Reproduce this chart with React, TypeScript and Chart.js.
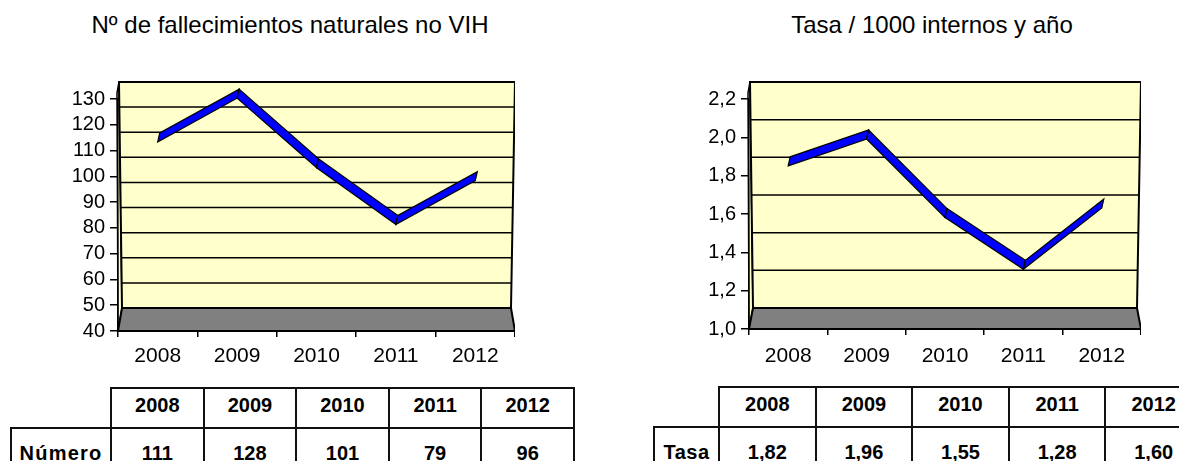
import React, { useEffect, useRef } from 'react';
import { Chart, registerables } from 'chart.js';

Chart.register(...registerables);

// ---------- data ----------
const years = ['2008', '2009', '2010', '2011', '2012'];
const deaths = [111, 128, 101, 79, 96];
const deathTicks = [40, 50, 60, 70, 80, 90, 100, 110, 120, 130];
const deathLabels = ['111', '128', '101', '79', '96'];

const rates = [1.82, 1.96, 1.55, 1.28, 1.6];
const rateTicks = [1.0, 1.2, 1.4, 1.6, 1.8, 2.0, 2.2];
const rateTickLabels = ['1,0', '1,2', '1,4', '1,6', '1,8', '2,0', '2,2'];
const rateLabels = ['1,82', '1,96', '1,55', '1,28', '1,60'];

const titleLeft = 'Nº de fallecimientos naturales no VIH';
const titleRight = 'Tasa / 1000 internos y año';
const rowLeft = 'Número';
const rowRight = 'Tasa';

const FONT = "Arial, 'Liberation Sans', Helvetica, sans-serif";

// ---------- 3D-look plugin (walls, floor, ribbon) ----------
const wall3d = {
  id: 'wall3d',
  beforeDraw(chart: any, _args: any, opts: any) {
    const { ctx, chartArea: a, scales } = chart;
    const y = scales.y;
    const D = opts.depth ?? 22;
    const rise = opts.rise ?? 17;
    const inset = 4;
    const floorTop = a.bottom - D;
    const wallTop = a.top - rise;
    const k = (floorTop - wallTop) / (a.bottom - a.top);
    const t = (yy: number) => (yy - wallTop) / (floorTop - wallTop);
    const leftAt = (yy: number) => a.left + 1 + (inset - 1) * t(yy);
    const rightAt = (yy: number) => a.right - inset * t(yy);

    ctx.save();
    ctx.lineJoin = 'miter';
    ctx.fillStyle = '#FFFFCC';
    ctx.strokeStyle = '#000';
    ctx.lineWidth = 1.5;
    // left wall sliver
    ctx.beginPath();
    ctx.moveTo(a.left, a.bottom);
    ctx.lineTo(a.left - 1, a.top - 6);
    ctx.lineTo(leftAt(wallTop), wallTop);
    ctx.lineTo(leftAt(floorTop), floorTop);
    ctx.closePath();
    ctx.fill();
    ctx.stroke();

    // back wall
    ctx.beginPath();
    ctx.moveTo(leftAt(wallTop), wallTop);
    ctx.lineTo(rightAt(wallTop), wallTop);
    ctx.lineTo(rightAt(floorTop), floorTop);
    ctx.lineTo(leftAt(floorTop), floorTop);
    ctx.closePath();
    ctx.fillStyle = '#FFFFCC';
    ctx.fill();
    ctx.lineWidth = 2;
    ctx.stroke();

    // gridlines on the back wall
    ctx.lineWidth = 1.5;
    const ticks = y.ticks;
    for (let i = 1; i < ticks.length - 1; i++) {
      const front = y.getPixelForValue(ticks[i].value);
      const by = floorTop - (a.bottom - front) * k;
      ctx.beginPath();
      ctx.moveTo(leftAt(by), by);
      ctx.lineTo(rightAt(by), by);
      ctx.stroke();
    }

    // floor
    ctx.beginPath();
    ctx.moveTo(a.left, a.bottom);
    ctx.lineTo(a.right, a.bottom);
    ctx.lineTo(rightAt(floorTop), floorTop);
    ctx.lineTo(leftAt(floorTop), floorTop);
    ctx.closePath();
    ctx.fillStyle = '#808080';
    ctx.fill();
    ctx.lineWidth = 2;
    ctx.stroke();
    ctx.restore();
  },
  afterDatasetsDraw(chart: any) {
    const { ctx } = chart;
    const meta = chart.getDatasetMeta(0);
    const pts = meta.data.map((p: any) => ({ x: p.x, y: p.y }));
    const fy = -6;
    const dx = 2;
    const dy = -9;
    ctx.save();
    ctx.fillStyle = '#0000FF';
    ctx.strokeStyle = '#000';
    ctx.lineWidth = 1.2;
    ctx.lineJoin = 'miter';
    for (let i = 0; i < pts.length - 1; i++) {
      const p0 = pts[i];
      const p1 = pts[i + 1];
      ctx.beginPath();
      ctx.moveTo(p0.x, p0.y + fy);
      ctx.lineTo(p1.x, p1.y + fy);
      ctx.lineTo(p1.x + dx, p1.y + fy + dy);
      ctx.lineTo(p0.x + dx, p0.y + fy + dy);
      ctx.closePath();
      ctx.fill();
      ctx.stroke();
    }
    ctx.restore();
  },
};

type ChartSpec = {
  values: number[];
  yWidth: number;
  xHeight: number;
  xPad: number;
  min: number;
  max: number;
  ticks: number[];
  tickLabel: (v: number, i: number) => string;
  depth: number;
  yPad: number;
};

function makeConfig(s: ChartSpec): any {
  return {
    type: 'line',
    data: {
      labels: years,
      datasets: [
        {
          data: s.values,
          borderWidth: 0,
          borderColor: 'rgba(0,0,0,0)',
          pointRadius: 0,
          showLine: false,
        },
      ],
    },
    plugins: [wall3d],
    options: {
      animation: false,
      responsive: false,
      events: [],
      layout: { padding: { left: 0, right: 0, top: 99, bottom: 0 } },
      plugins: {
        legend: { display: false },
        tooltip: { enabled: false },
        title: { display: false },
        wall3d: { depth: s.depth, rise: 17 },
      },
      scales: {
        x: {
          type: 'category',
          offset: true,
          grid: {
            offset: true,
            drawOnChartArea: false,
            drawTicks: true,
            tickLength: 6,
            color: '#000',
            lineWidth: 1.5,
          },
          border: { display: true, color: '#000', width: 1.5 },
          ticks: {
            color: '#000',
            font: { family: FONT, size: 21 },
            padding: s.xPad,
            maxRotation: 0,
            autoSkip: false,
          },
          afterFit: (sc: any) => {
            sc.height = s.xHeight;
          },
        },
        y: {
          min: s.min,
          max: s.max,
          afterBuildTicks: (sc: any) => {
            sc.ticks = s.ticks.map((v) => ({ value: v }));
          },
          grid: {
            drawOnChartArea: false,
            drawTicks: true,
            tickLength: 8,
            color: '#000',
            lineWidth: 1.5,
          },
          border: { display: true, color: '#000', width: 1.5 },
          ticks: {
            color: '#000',
            font: { family: FONT, size: 20 },
            padding: s.yPad,
            autoSkip: false,
            callback: (v: number, i: number) => s.tickLabel(v, i),
          },
          afterFit: (sc: any) => {
            sc.width = s.yWidth;
          },
        },
      },
    },
  };
}

function ChartCanvas(props: { spec: ChartSpec; left: number; width: number; height: number }) {
  const ref = useRef<HTMLCanvasElement | null>(null);
  useEffect(() => {
    if (!ref.current) return;
    const chart = new Chart(ref.current, makeConfig(props.spec));
    return () => chart.destroy();
  }, []);
  return (
    <canvas
      ref={ref}
      width={props.width}
      height={props.height}
      style={{ position: 'absolute', left: props.left, top: 0, width: props.width, height: props.height }}
    />
  );
}

function Title(props: { text: string; center: number }) {
  return (
    <div
      style={{
        position: 'absolute',
        left: props.center - 300,
        width: 600,
        top: 13,
        textAlign: 'center',
        fontFamily: FONT,
        fontSize: 24,
        lineHeight: '24px',
        color: '#000',
        whiteSpace: 'nowrap',
      }}
    >
      {props.text}
    </div>
  );
}

function DataTable(props: {
  left: number;
  labelW: number;
  colW: number;
  top: number;
  h1: number;
  h2: number;
  rowLabel: string;
  labelSpacing: number;
  values: string[];
}) {
  const border = '2px solid #111';
  const base: React.CSSProperties = {
    position: 'absolute',
    boxSizing: 'border-box',
    border,
    display: 'flex',
    alignItems: 'center',
    justifyContent: 'center',
    fontFamily: FONT,
    fontWeight: 'bold',
    fontSize: 20,
    color: '#000',
    whiteSpace: 'nowrap',
  };
  const x0 = props.left + props.labelW;
  return (
    <>
      {years.map((yr, i) => (
        <div
          key={'h' + i}
          style={{
            ...base,
            left: x0 + i * props.colW,
            top: props.top,
            width: props.colW + 2,
            height: props.h1 + 2,
            paddingBottom: 6,
          }}
        >
          {yr}
        </div>
      ))}
      <div
        style={{
          ...base,
          left: props.left,
          top: props.top + props.h1,
          width: props.labelW + 2,
          height: props.h2 + 2,
          letterSpacing: props.labelSpacing,
        }}
      >
        {props.rowLabel}
      </div>
      {props.values.map((v, i) => (
        <div
          key={'v' + i}
          style={{
            ...base,
            left: x0 + i * props.colW,
            top: props.top + props.h1,
            width: props.colW + 2,
            height: props.h2 + 2,
          }}
        >
          {v}
        </div>
      ))}
    </>
  );
}

const leftSpec: ChartSpec = {
  values: deaths,
  yWidth: 118,
  xHeight: 44,
  xPad: 7,
  min: 40,
  max: 130,
  ticks: deathTicks,
  tickLabel: (v) => String(v),
  depth: 23,
  yPad: 5,
};

const rightSpec: ChartSpec = {
  values: rates,
  yWidth: 149,
  xHeight: 46,
  xPad: 9,
  min: 1.0,
  max: 2.2,
  ticks: rateTicks,
  tickLabel: (_v, i) => rateTickLabels[i],
  depth: 21,
  yPad: 5,
};

export default function App() {
  return (
    <div
      style={{
        position: 'fixed',
        left: 0,
        top: 0,
        width: 1179,
        height: 461,
        overflow: 'hidden',
        background: '#fff',
      }}
    >
      <Title text={titleLeft} center={290} />
      <Title text={titleRight} center={932} />
      <ChartCanvas spec={leftSpec} left={0} width={515} height={375} />
      <ChartCanvas spec={rightSpec} left={600} width={541} height={375} />
      <DataTable
        left={10}
        labelW={100}
        colW={92.6}
        top={387}
        h1={40}
        h2={50}
        rowLabel={rowLeft}
        labelSpacing={1.2}
        values={deathLabels}
      />
      <DataTable
        left={653}
        labelW={65}
        colW={96.6}
        top={386}
        h1={40}
        h2={50}
        rowLabel={rowRight}
        labelSpacing={0.5}
        values={rateLabels}
      />
    </div>
  );
}
